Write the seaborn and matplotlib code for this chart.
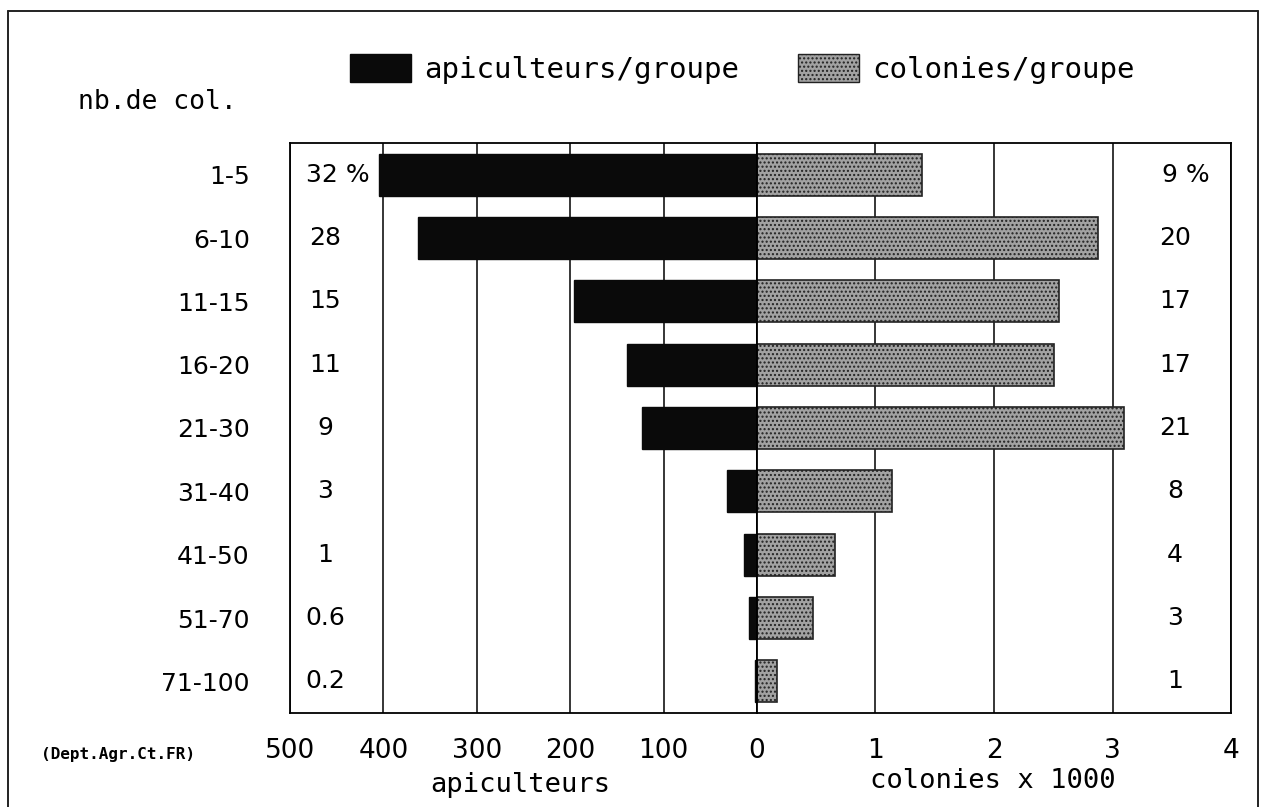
import matplotlib
matplotlib.use("Agg")
import matplotlib.pyplot as plt
from matplotlib.patches import Patch
from matplotlib.lines import Line2D
import seaborn as sns
import pandas as pd

categories = ["1-5", "6-10", "11-15", "16-20", "21-30", "31-40", "41-50", "51-70", "71-100"]
apiculteurs = [405, 363, 196, 139, 123, 32, 14, 8.5, 2.5]
colonies = [1.39, 2.88, 2.55, 2.51, 3.10, 1.14, 0.66, 0.47, 0.17]
pct_api = ["32 %", "28", "15", "11", "9", "3", "1", "0.6", "0.2"]
pct_col = ["9 %", "20", "17", "17", "21", "8", "4", "3", "1"]
left_ticks = [500, 400, 300, 200, 100, 0]
right_ticks = [1, 2, 3, 4]

df = pd.DataFrame({"cat": categories, "api": apiculteurs, "col": colonies})

sns.set_theme(style="white")
plt.rcParams["font.family"] = ["DejaVu Sans"]
plt.rcParams["text.color"] = "black"
plt.rcParams["axes.labelcolor"] = "black"
plt.rcParams["xtick.color"] = "black"
plt.rcParams["ytick.color"] = "black"

W, H = 1267, 807
fig = plt.figure(figsize=(W / 100, H / 100), dpi=100)
fig.patch.set_facecolor("white")

x0, xz, x4 = 290, 757, 1231
ytop, ybot = 143, 713
axL = fig.add_axes([x0 / W, 1 - ybot / H, (xz - x0) / W, (ybot - ytop) / H])
axR = fig.add_axes([xz / W, 1 - ybot / H, (x4 - xz) / W, (ybot - ytop) / H])

grey_face = "#a2a2a2"
sns.barplot(data=df, x="api", y="cat", orient="h", color="#0a0a0a", ax=axL,
            width=0.66, saturation=1, edgecolor="#0a0a0a", linewidth=1)
sns.barplot(data=df, x="col", y="cat", orient="h", color=grey_face, ax=axR,
            width=0.66, saturation=1, edgecolor="#222222", linewidth=1.2)
for p in axR.patches:
    p.set_hatch("....")

axL.set_xlim(500, 0)
axR.set_xlim(0, 4)
for ax in (axL, axR):
    ax.set_ylim(8.5, -0.5)
    ax.set_xlabel("")
    ax.set_ylabel("")
    ax.set_axisbelow(True)
    ax.grid(axis="x", color="black", linewidth=1.1)
    ax.grid(axis="y", visible=False)
    for s in ax.spines.values():
        s.set_color("black")
        s.set_linewidth(1.3)
    ax.set_facecolor("white")

axL.set_xticks(left_ticks)
axL.set_xticklabels([str(t) for t in left_ticks])
axR.set_xticks(right_ticks)
axR.set_xticklabels([str(t) for t in right_ticks])
axL.tick_params(axis="x", length=0, pad=18, labelsize=19, colors="black")
axR.tick_params(axis="x", length=0, pad=18, labelsize=19, colors="black")
axL.tick_params(axis="y", length=0, pad=29, labelsize=18, colors="black")
axR.set_yticks([])

# percentage labels
for i, t in enumerate(pct_api):
    xf = 0.075 if i > 0 else 0.103
    axL.text(xf, i, t, transform=axL.get_yaxis_transform(), ha="center", va="center",
             fontsize=18, color="black")
for i, t in enumerate(pct_col):
    xf = 0.882 if i > 0 else 0.905
    axR.text(xf, i, t, transform=axR.get_yaxis_transform(), ha="center", va="center",
             fontsize=18, color="black")

mono = ["DejaVu Sans Mono"]
fig.text(78 / W, 1 - 102 / H, "nb.de col.", fontsize=19, family=mono, ha="left", va="center",
         color="black")
fig.text(520 / W, 1 - 785 / H, "apiculteurs", fontsize=19.5, family=mono, ha="center",
         va="center", color="black")
fig.text(993 / W, 1 - 781 / H, "colonies x 1000", fontsize=19.5, family=mono, ha="center",
         va="center", color="black")
fig.text(118 / W, 1 - 755 / H, "(Dept.Agr.Ct.FR)", fontsize=11.5, family=mono,
         fontweight="bold", ha="center", va="center", color="black")

handles = [Patch(facecolor="#0a0a0a", edgecolor="#0a0a0a", label="apiculteurs/groupe"),
           Patch(facecolor=grey_face, edgecolor="#222222", hatch="....", label="colonies/groupe")]
leg = fig.legend(handles=handles, loc="center left", bbox_to_anchor=(350 / W, 1 - 69 / H),
                 ncol=2, frameon=False, prop={"family": "DejaVu Sans Mono", "size": 21},
                 handlelength=2.1, handleheight=1.08, handletextpad=0.45, columnspacing=2.0,
                 borderpad=0, borderaxespad=0)
for t in leg.get_texts():
    t.set_color("black")

# outer frame
for xs, ys in [([8, 8], [807, 11]), ([8, 1258], [11, 11]), ([1258, 1258], [11, 807])]:
    fig.add_artist(Line2D([x / W for x in xs], [1 - y / H for y in ys], color="#222222",
                          linewidth=1.4, transform=fig.transFigure))

fig.savefig("out.png", dpi=100)
